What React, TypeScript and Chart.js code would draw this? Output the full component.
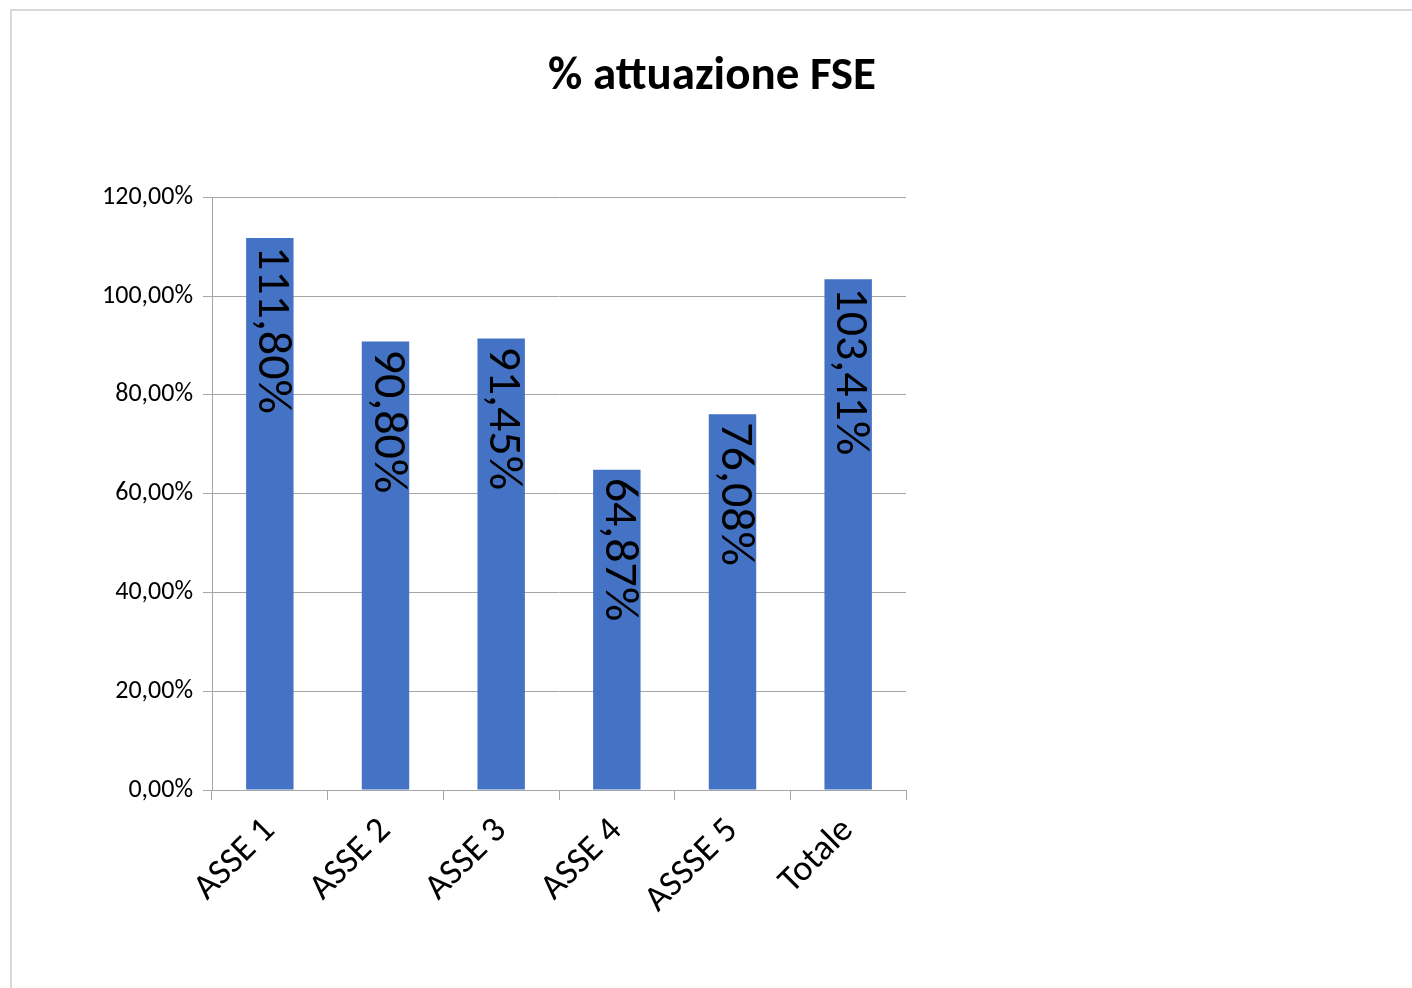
import React, { useEffect, useRef } from "react";
import { Chart, registerables } from "chart.js";

Chart.register(...registerables);

const categories: string[] = ["ASSE 1", "ASSE 2", "ASSE 3", "ASSE 4", "ASSSE 5", "Totale"];
const values: number[] = [1.118, 0.908, 0.9145, 0.6487, 0.7608, 1.0341];
const valueLabels: string[] = ["111,80%", "90,80%", "91,45%", "64,87%", "76,08%", "103,41%"];
const titleText = "% attuazione FSE";

const FONT = "'Carlito', 'Open Sans', 'Noto Sans', sans-serif";
const GRID = "#a6a6a6";

const fmtPct = (v: number) => (v * 100).toFixed(2).replace(".", ",") + "%";

const barLabels = {
  id: "barLabels",
  afterDatasetsDraw(chart: any) {
    const ctx = chart.ctx;
    const meta = chart.getDatasetMeta(0);
    ctx.save();
    ctx.fillStyle = "#000000";
    ctx.font = `48px ${FONT}`;
    ctx.textAlign = "left";
    ctx.textBaseline = "middle";
    meta.data.forEach((bar: any, i: number) => {
      ctx.save();
      ctx.translate(bar.x + 1, bar.y + 8);
      ctx.rotate(Math.PI / 2);
      ctx.fillText(valueLabels[i], 0, 0);
      ctx.restore();
    });
    ctx.restore();
  },
};

export default function App() {
  const ref = useRef<HTMLCanvasElement | null>(null);
  useEffect(() => {
    if (!ref.current) return;
    const chart = new Chart(ref.current, {
      type: "bar",
      data: {
        labels: categories,
        datasets: [
          {
            data: values,
            backgroundColor: "#4472C4",
            borderWidth: 0,
            barPercentage: 0.41,
            categoryPercentage: 1,
            yAxisID: "y",
          },
        ],
      },
      options: {
        responsive: false,
        animation: false,
        layout: { padding: 0 },
        plugins: {
          legend: { display: false },
          tooltip: { enabled: false },
          title: {
            display: true,
            text: titleText,
            color: "#000000",
            font: { family: FONT, size: 47, weight: "bold" },
            padding: { top: 38, bottom: 92 },
          },
        },
        scales: {
          x: {
            grid: {
              offset: true,
              drawOnChartArea: false,
              drawTicks: true,
              tickLength: 10,
              color: GRID,
            },
            border: { color: GRID, width: 1 },
            ticks: {
              color: "#000000",
              font: { family: FONT, size: 36 },
              maxRotation: 45,
              minRotation: 45,
              padding: 10,
            },
            afterFit(scale: any) {
              scale.height = 198;
            },
          },
          y: {
            min: 0,
            max: 1.2,
            grid: { color: GRID, tickLength: 9, drawTicks: true },
            border: { color: GRID, width: 1 },
            ticks: {
              stepSize: 0.2,
              color: "#000000",
              font: { family: FONT, size: 26 },
              padding: 10,
              callback: (v: any) => fmtPct(Number(v)),
            },
            afterFit(scale: any) {
              scale.width = 200;
            },
          },
          yRight: {
            type: "linear",
            position: "right",
            display: true,
            grid: { display: false, drawTicks: false },
            border: { display: false },
            ticks: { display: false },
            afterFit(scale: any) {
              scale.width = 506;
            },
          },
        },
      },
      plugins: [barLabels],
    });
    return () => chart.destroy();
  }, []);

  return (
    <div
      style={{
        position: "absolute",
        left: 10,
        top: 9,
        width: 1420,
        height: 1000,
        borderTop: "2px solid #d9d9d9",
        borderLeft: "2px solid #d9d9d9",
        background: "#ffffff",
      }}
    >
      <canvas ref={ref} width={1400} height={977} style={{ display: "block" }} />
    </div>
  );
}
